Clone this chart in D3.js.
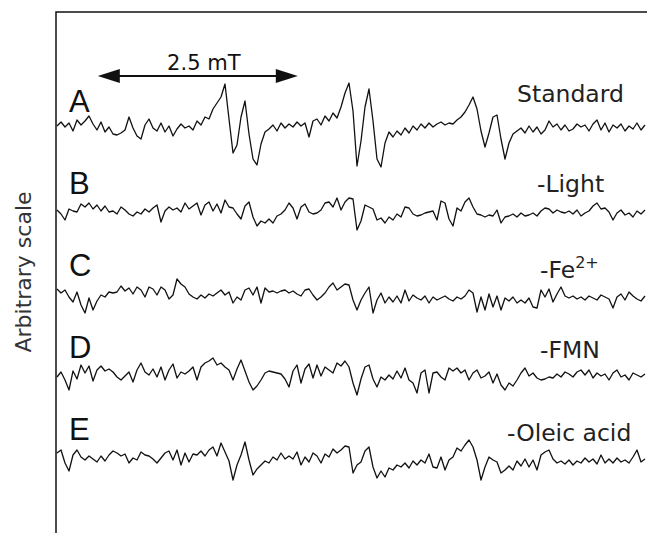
<!DOCTYPE html>
<html>
<head>
<meta charset="utf-8">
<script src="https://cdn.jsdelivr.net/npm/d3@7"></script>
<style>
  html, body { margin: 0; padding: 0; background: #fff; }
  svg { display: block; }
</style>
</head>
<body>
<svg id="chart" width="647" height="533"></svg>
<script>
// EPR spectra, one trace per sample condition, sampled every 0.05 mT
const traceLetters = ["A", "B", "C", "D", "E"];
const conditions = ["Standard", "-Light", "-Fe", "-FMN", "-Oleic acid"];
const conditionSup = ["", "", "2+", "", ""];
const fieldStep = 0.05;          // mT between samples
const scaleBarField = [0.51, 3.01]; // mT, 2.5 mT bar
const scaleBarLabel = "2.5 mT";
const yLabel = "Arbitrary scale";

const spectrumA = [
  3, 7, 2, 6, -2, 9, 4, 8, 13, 5,
  -1, 7, -3, 2, -5, -6, -4, -1, 12, 1,
  -7, -10, 4, 10, 1, -2, 6, -3, 3, -7,
  0, 5, 1, 3, -1, 8, 4, 12, 10, 20,
  26, 32, 45, 10, -24, -16, 12, 28, -5, -30,
  -36, -15, -3, 0, 4, -2, 6, 1, 5, 2,
  7, 3, 6, -8, 8, 10, 4, 13, 8, 16,
  11, 22, 36, 46, 18, -37, -12, 22, 40, 8,
  -30, -38, -14, -3, -8, -2, -6, 1, -4, 3,
  -1, 5, 1, 6, 2, 5, 7, 4, 6, 5,
  9, 12, 17, 24, 32, 20, -2, -18, -4, 12,
  14, -10, -30, -14, -5, -2, 1, -4, 3, -3,
  2, -5, -1, 8, 2, 5, -1, 4, -2, 0,
  5, 2, 4, -2, 5, 9, -1, 6, -3, 4,
  1, 5, -2, 3, 0, 6, -1, 4
];
const spectrumB = [
  1, -3, -9, 2, 0, -1, 7, 4, 8, 2,
  6, 0, 5, -1, 0, -3, 4, 1, -3, -5,
  -1, -3, 2, -1, 3, 6, -11, 0, 4, 1,
  3, -1, 8, 2, 5, 8, -4, 6, 9, 0,
  7, -2, 11, 4, 3, -3, -8, 5, 9, -6,
  -15, -10, -12, -8, -12, -5, -3, 1, 8, 3,
  -8, 4, 7, -1, -3, -2, 1, 8, 9, 4,
  13, 1, 9, 13, 12, -19, -10, 6, 4, 2,
  -9, -7, -12, -6, -9, -3, -6, 4, 3, -3,
  -5, -4, -2, -1, 0, -9, 10, 8, -8, -15,
  3, 0, 9, 13, 4, -3, -4, -6, -4, -5,
  1, -12, -6, -5, -3, -6, -2, -5, -4, -2,
  -5, 0, 3, 2, -2, 1, -1, -2, 0, -3,
  1, -5, -2, 0, 5, 8, 2, 3, -1, -9,
  -2, 1, -4, -2, -6, 0, -3, 1
];
const spectrumC = [
  4, 0, 3, -4, -9, 1, -12, -20, -5, -17,
  -8, -2, -4, 1, 0, 1, 7, 2, 5, -1,
  6, 3, -4, 6, 4, -2, 6, 3, -6, -2,
  14, 9, 6, -1, -4, -6, -2, -5, -1, -3,
  0, 3, -2, 1, -10, -4, -7, 3, 5, -2,
  6, -10, 5, 1, 2, 0, 2, 3, 0, 2,
  -1, -3, 3, 4, -2, -7, -4, 0, 6, 10,
  3, 6, 9, 8, -7, -17, -7, 0, 6, -20,
  -7, 0, -10, -4, -9, -3, -10, 3, -8, -2,
  -5, -7, -3, -10, -4, -7, -5, -3, -6, -8,
  -4, -6, -3, 3, 0, -19, -4, -17, -1, -14,
  -3, -17, -5, -8, -4, -10, -7, -10, -5, -14,
  -15, 3, -4, 4, -9, -1, 6, -3, -5, -3,
  -6, -4, -7, -3, -5, -7, -2, -4, -6, -15,
  -4, -1, -7, 1, -3, -6, -8, -3
];
const spectrumD = [
  -2, 3, -5, -15, 4, -4, 10, 2, 9, -6,
  5, 9, 4, 6, 3, -2, -5, -1, 3, -7,
  5, 12, 3, 0, 6, -2, 8, -5, 5, 11,
  -3, 3, 1, 4, 8, -5, 8, 12, 14, 17,
  10, 12, 8, 5, -5, 6, 15, 4, -7, -15,
  -11, -5, 2, 4, 3, 2, 1, -4, -12, 4,
  10, -8, 6, 11, -3, 10, -1, 8, 5, 2,
  12, 9, 14, 8, -8, -20, -4, 8, 10, -4,
  -12, -2, -5, 0, -4, 4, -3, 7, -5, -8,
  -18, 2, 5, -18, 2, 3, -2, -5, 7, 4,
  7, 2, 5, -5, 2, 5, -3, -1, 3, -8,
  1, -10, -15, -8, -11, -5, 2, 7, -1, 2,
  -3, -5, -4, -2, -3, 1, -2, 3, 1, -2,
  3, 5, 0, 5, -3, 2, -1, 1, -5, 2,
  5, -2, 0, -5, 2, 0, -2, 1
];
const spectrumE = [
  4, 7, -6, -14, 2, 7, 0, -3, 1, -2,
  -5, 1, -4, 2, 6, 4, 1, 3, -6, -1,
  -3, 5, 2, 1, -2, -6, -1, 4, 6, -3,
  7, -8, 4, -5, 3, 2, 6, 1, 7, 10,
  1, 14, 5, -4, -23, -8, 2, 15, -3, -18,
  -12, -8, -4, -6, 0, -3, 4, -2, 1, -2,
  5, -8, 0, -5, 4, 1, -6, 3, 0, 8,
  4, 7, 11, 10, -16, -8, -5, 6, 10, -10,
  -21, -14, -20, -11, -13, -8, -10, -6, -11, -4,
  -8, -3, -6, 3, -10, -11, 0, -13, -3, 0,
  9, 6, 12, 17, 10, -3, -23, -10, 0, -3,
  -5, -16, -13, -9, -13, -4, -9, -2, -10, -3,
  -13, 2, 5, 7, -2, -6, -4, -7, -3, -8,
  -4, -6, -1, -5, -2, -7, 2, -6, -2, -6,
  -1, -5, -3, -6, 0, 7, -5, -2
];
const spectra = [spectrumA, spectrumB, spectrumC, spectrumD, spectrumE];
const traceOffsets = [328, 246, 164, 82, 0]; // vertical stacking, arbitrary units

// ---- layout ----
const W = 647, H = 533;
const plotLeft = 56, plotTop = 12;
const svg = d3.select("#chart");

const nSamples = spectrumA.length;
const x = d3.scaleLinear()
  .domain([0, (nSamples - 1) * fieldStep])
  .range([57, 645]);
const y = d3.scaleLinear()
  .domain([-76, 445])
  .range([H, plotTop]);

// frame: left and top edges
svg.append("path")
  .attr("d", `M${plotLeft},${H} V${plotTop} H${W}`)
  .attr("fill", "none")
  .attr("stroke", "#111")
  .attr("stroke-width", 1.5);

// y axis title
svg.append("text")
  .attr("transform", `translate(31,272) rotate(-90)`)
  .attr("text-anchor", "middle")
  .attr("font-family", "DejaVu Sans, Verdana, sans-serif")
  .attr("font-size", 22)
  .attr("fill", "#333")
  .text(yLabel);

// spectra
const line = d3.line()
  .x((d, i) => x(i * fieldStep))
  .y(d => d);

spectra.forEach((s, k) => {
  svg.append("path")
    .datum(s.map(v => y(v + traceOffsets[k])))
    .attr("d", line)
    .attr("fill", "none")
    .attr("stroke", "#111")
    .attr("stroke-width", 1.3)
    .attr("stroke-linejoin", "round");
});

// trace letters
const letterLift = 17;
svg.selectAll("text.letter")
  .data(traceLetters)
  .join("text")
  .attr("class", "letter")
  .attr("x", 69)
  .attr("y", (d, k) => y(traceOffsets[k] + letterLift))
  .attr("font-family", "Liberation Sans, Arial, sans-serif")
  .attr("font-size", 31)
  .attr("fill", "#111")
  .text(d => d);

// condition labels
const condX = [517, 537, 540, 540, 507];
const condLift = [27, 19, 15, 17, 16];
conditions.forEach((c, k) => {
  const t = svg.append("text")
    .attr("x", condX[k])
    .attr("y", y(traceOffsets[k] + condLift[k]))
    .attr("font-family", "DejaVu Sans, Verdana, sans-serif")
    .attr("font-size", 23.5)
    .attr("fill", "#222")
    .text(c);
  if (conditionSup[k]) {
    t.append("tspan")
      .attr("dy", -10)
      .attr("font-size", 16)
      .text(conditionSup[k]);
  }
});

// 2.5 mT scale bar with arrowheads
const barY = 76;
const x0 = x(scaleBarField[0]), x1 = x(scaleBarField[1]);
const headLen = 22, headHalf = 7;
svg.append("line")
  .attr("x1", x0 + headLen - 2).attr("x2", x1 - headLen + 2)
  .attr("y1", barY).attr("y2", barY)
  .attr("stroke", "#111").attr("stroke-width", 2);
svg.append("path")
  .attr("d", `M${x0},${barY} L${x0 + headLen},${barY - headHalf} L${x0 + headLen},${barY + headHalf} Z`)
  .attr("fill", "#111");
svg.append("path")
  .attr("d", `M${x1},${barY} L${x1 - headLen},${barY - headHalf} L${x1 - headLen},${barY + headHalf} Z`)
  .attr("fill", "#111");
svg.append("text")
  .attr("x", (x0 + x1) / 2 + 6)
  .attr("y", 70)
  .attr("text-anchor", "middle")
  .attr("font-family", "DejaVu Sans, Verdana, sans-serif")
  .attr("font-size", 21)
  .attr("fill", "#111")
  .text(scaleBarLabel);
</script>
</body>
</html>
